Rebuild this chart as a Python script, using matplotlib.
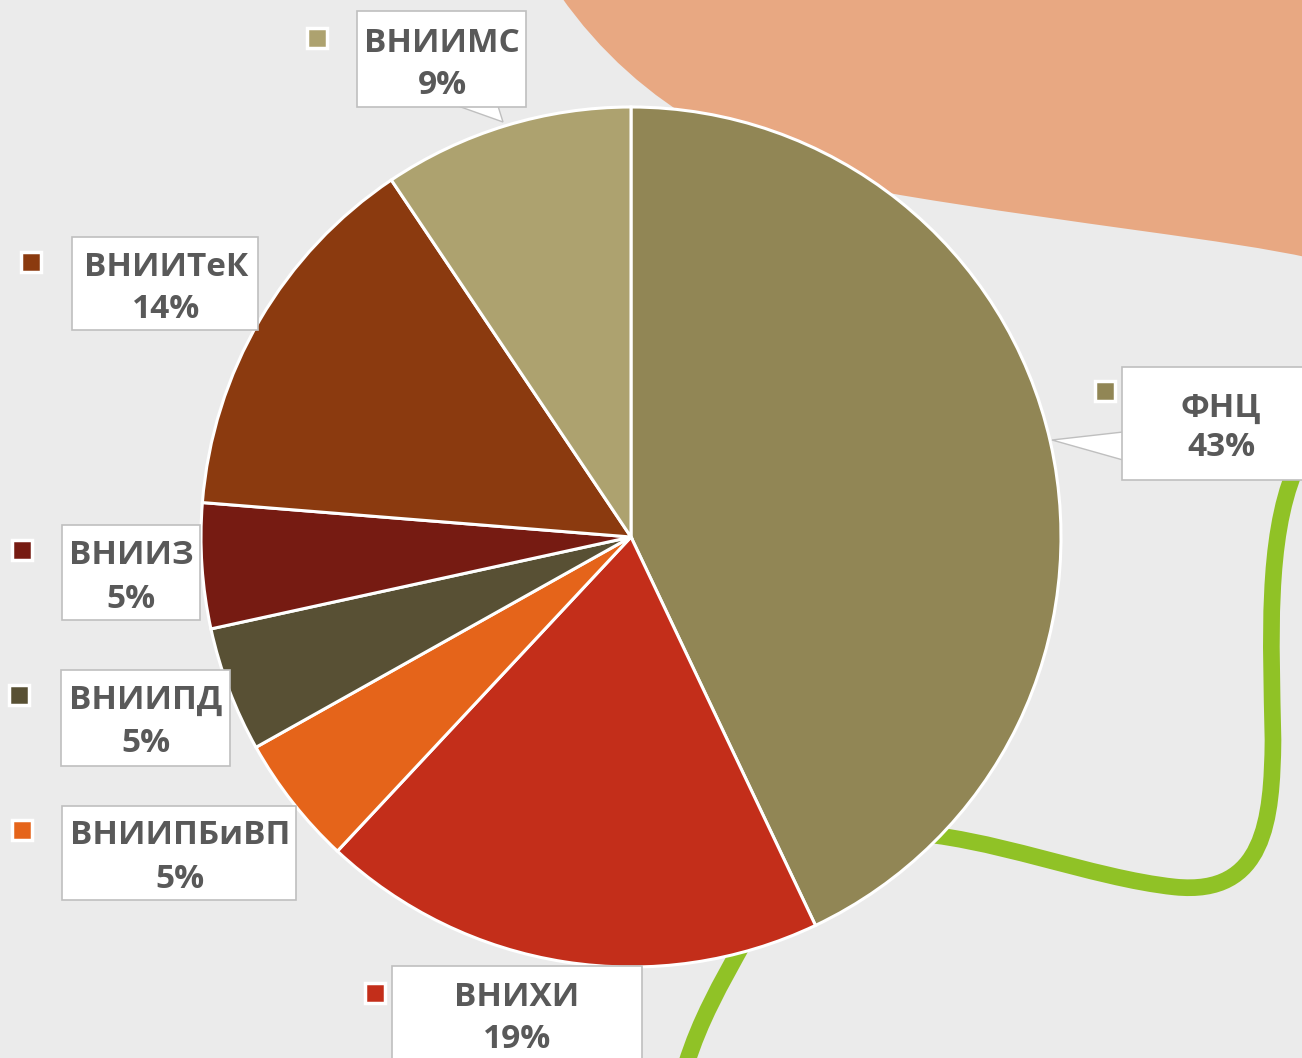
import matplotlib
matplotlib.use("Agg")
import matplotlib.pyplot as plt
from matplotlib.patches import Rectangle, Polygon, PathPatch
from matplotlib.path import Path

names = ["ФНЦ", "ВНИХИ", "ВНИИПБиВП", "ВНИИПД", "ВНИИЗ", "ВНИИТеК", "ВНИИМС"]
shares = [42.9, 19.0, 4.9, 4.7, 4.7, 14.3, 9.4]
colors = ["#918655", "#C32E1A", "#E5641A", "#585034", "#761B12", "#8B3A0F", "#ADA26F"]

# label boxes: (x0, y0, x1, y1) in pixels, text center x, line y's
boxes = {
    "ФНЦ": (1122, 367, 1306, 480, 1221, 405, 444),
    "ВНИХИ": (392, 966, 642, 1062, 517, 995, 1037),
    "ВНИИПБиВП": (62, 806, 296, 900, 180, 833, 876),
    "ВНИИПД": (61, 670, 230, 766, 146, 697, 740),
    "ВНИИЗ": (62, 525, 200, 620, 131, 553, 597),
    "ВНИИТеК": (72, 237, 258, 330, 166, 265, 307),
    "ВНИИМС": (357, 11, 526, 107, 442, 40, 82),
}
markers = {
    "ФНЦ": (1105, 391), "ВНИХИ": (375, 993), "ВНИИПБиВП": (22, 830),
    "ВНИИПД": (19, 695), "ВНИИЗ": (22, 550), "ВНИИТеК": (31, 262), "ВНИИМС": (317, 38),
}

W, H = 1302, 1058
fig = plt.figure(figsize=(W / 100, H / 100), dpi=100)
fig.patch.set_facecolor("#EBEBEB")
ax = fig.add_axes([0, 0, 1, 1])
ax.set_facecolor("#EBEBEB")

# decorative background shapes
blob = Path(
    [(560, -5), (640, 110), (760, 170), (900, 195), (1080, 225), (1230, 240), (1310, 258),
     (1310, -5), (560, -5)],
    [Path.MOVETO, Path.CURVE4, Path.CURVE4, Path.CURVE4, Path.CURVE4, Path.CURVE4, Path.CURVE4,
     Path.LINETO, Path.CLOSEPOLY])
ax.add_patch(PathPatch(blob, facecolor="#E8A882", edgecolor="none", zorder=0))

green = Path(
    [(900, 832), (990, 836), (1090, 878), (1175, 887),
     (1265, 896), (1272, 820), (1273, 740),
     (1271, 640), (1266, 540), (1295, 470)],
    [Path.MOVETO, Path.CURVE4, Path.CURVE4, Path.CURVE4, Path.CURVE4, Path.CURVE4, Path.CURVE4,
     Path.CURVE4, Path.CURVE4, Path.CURVE4])
ax.add_patch(PathPatch(green, facecolor="none", edgecolor="#90C226", lw=12, zorder=0,
                       capstyle="butt"))
green2 = Path([(745, 940), (720, 985), (700, 1020), (686, 1065)],
              [Path.MOVETO, Path.CURVE4, Path.CURVE4, Path.CURVE4])
ax.add_patch(PathPatch(green2, facecolor="none", edgecolor="#90C226", lw=12, zorder=0,
                       capstyle="butt"))

wedges, _ = ax.pie(shares, colors=colors, startangle=-90, counterclock=True,
                   center=(631, 537), radius=430,
                   wedgeprops=dict(edgecolor="white", linewidth=2.2), frame=True)
for w in wedges:
    w.set_zorder(2)

# callout pointers
ax.add_patch(Polygon([(1123, 432), (1052, 440), (1123, 460)], closed=False,
                     facecolor="white", edgecolor="#BFBFBF", lw=1, zorder=3))
ax.add_patch(Polygon([(458, 106), (503, 122), (498, 106)], closed=False,
                     facecolor="white", edgecolor="#BFBFBF", lw=1, zorder=3))

for name, share, col in zip(names, shares, colors):
    x0, y0, x1, y1, tx, ly1, ly2 = boxes[name]
    ax.add_patch(Rectangle((x0, y0), x1 - x0, y1 - y0, facecolor="white",
                           edgecolor="#BFBFBF", lw=1.2, zorder=4))
    ax.text(tx, ly1 + 3, name, ha="center", va="center", fontsize=24, fontweight="bold",
            color="#595959", family="Open Sans", zorder=5)
    ax.text(tx, ly2 + 3, f"{share:.0f}%", ha="center", va="center", fontsize=24,
            fontweight="bold", color="#595959", family="Open Sans", zorder=5)
    mx, my = markers[name]
    ax.add_patch(Rectangle((mx - 10, my - 10), 20, 20, facecolor=col, edgecolor="white",
                           lw=2.5, zorder=5))

ax.set_xlim(0, W)
ax.set_ylim(H, 0)
ax.set_aspect("auto")
ax.axis("off")

fig.savefig("out.png", dpi=100, facecolor=fig.get_facecolor())
